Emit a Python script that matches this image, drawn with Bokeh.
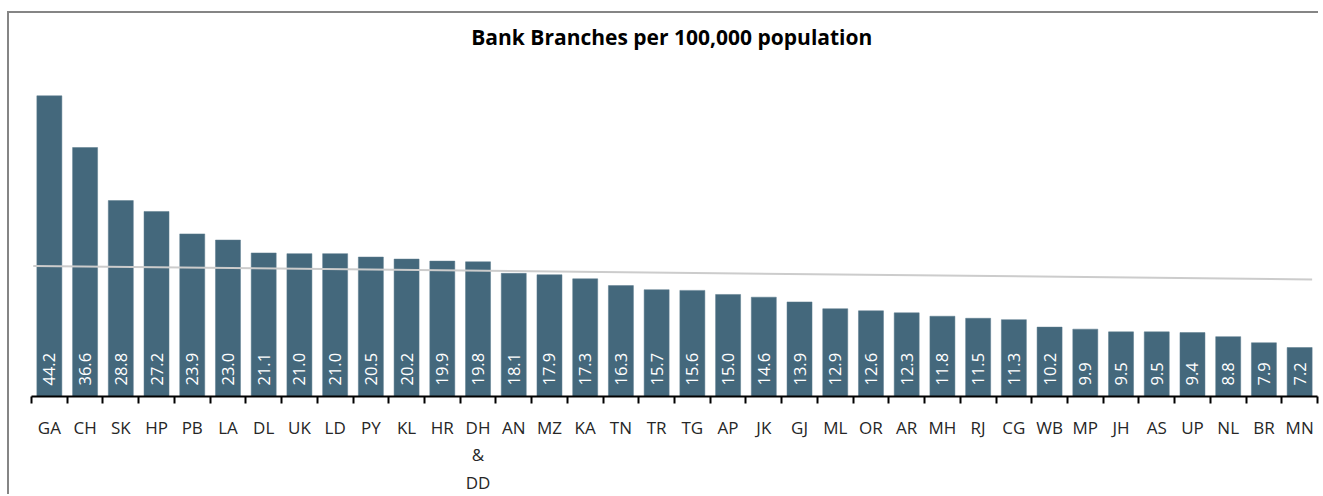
from bokeh.plotting import figure
from bokeh.models import Range1d, FixedTicker, ColumnDataSource, Label
from bokeh.core.properties import value
from bokeh.embed import file_html
from bokeh.resources import INLINE
import math

states = ["GA", "CH", "SK", "HP", "PB", "LA", "DL", "UK", "LD", "PY", "KL", "HR",
          "DH\n&\nDD", "AN", "MZ", "KA", "TN", "TR", "TG", "AP", "JK", "GJ", "ML", "OR",
          "AR", "MH", "RJ", "CG", "WB", "MP", "JH", "AS", "UP", "NL", "BR", "MN"]
branches = [44.2, 36.6, 28.8, 27.2, 23.9, 23.0, 21.1, 21.0, 21.0, 20.5, 20.2, 19.9,
            19.8, 18.1, 17.9, 17.3, 16.3, 15.7, 15.6, 15.0, 14.6, 13.9, 12.9, 12.6,
            12.3, 11.8, 11.5, 11.3, 10.2, 9.9, 9.5, 9.5, 9.4, 8.8, 7.9, 7.2]
# grey reference line (start and end values)
ref_line = [19.2, 17.2]
title_text = "Bank Branches  per 100,000 population"

FONT = "Open Sans"
n = len(states)
xs = list(range(n))
labels = ["%.1f" % v for v in branches]

src = ColumnDataSource(dict(x=xs, y=branches, lab=labels, zero=[0] * n))

p = figure(width=1311, height=483, output_backend="svg", toolbar_location=None,
           x_range=Range1d(-0.5, n - 0.5), y_range=Range1d(0, 56.3),
           y_axis_location=None, tools="",
           min_border_left=22, min_border_right=3, min_border_top=0, min_border_bottom=99)
p.margin = (13, 0, 0, 9)
p.styles = {"box-shadow": "-2px -2px 0px 0px #858585", "overflow": "visible"}
p.grid.visible = False
p.outline_line_color = None
p.background_fill_color = "white"
p.border_fill_color = "white"

p.vbar(x="x", top="y", width=0.7, source=src, fill_color="#44687c",
       line_color="#5a7a8c", line_width=0.5)

p.text(x="x", y="zero", text="lab", source=src, angle=math.pi / 2,
       text_align="left", text_baseline="middle", y_offset=-11,
       text_color="white", text_font=value(FONT), text_font_size="16.5px")

p.line(x=[-0.45, n - 1 + 0.35], y=ref_line, line_color="#cccccc", line_width=2)

ax = p.xaxis[0]
ax.ticker = FixedTicker(ticks=xs, minor_ticks=[i - 0.5 for i in range(n + 1)])
ax.major_label_overrides = {i: s for i, s in enumerate(states)}
ax.major_tick_out = 0
ax.major_tick_in = 0
ax.minor_tick_out = 7
ax.minor_tick_in = 0
ax.minor_tick_line_color = "black"
ax.minor_tick_line_width = 2
ax.axis_line_color = "black"
ax.axis_line_width = 2
ax.major_label_standoff = 12
ax.major_label_text_font = FONT
ax.major_label_text_font_size = "17px"
ax.major_label_text_color = "#262626"

p.add_layout(Label(x=(n - 1) / 2, y=52.8, text=title_text, text_align="center",
                   text_baseline="middle", text_font=FONT, text_font_size="21px",
                   text_font_style="bold", text_color="black"))

open("out.html", "w").write(file_html(p, INLINE))
